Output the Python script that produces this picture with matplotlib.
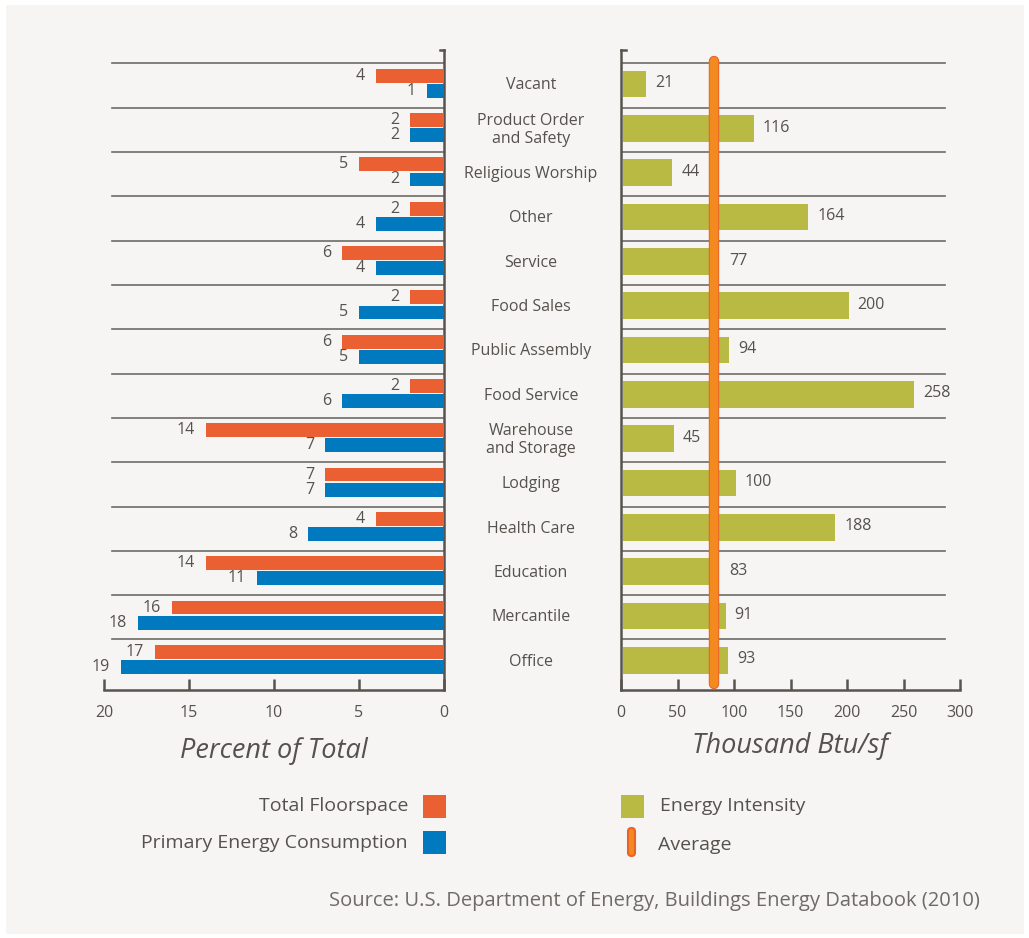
import matplotlib
matplotlib.use("Agg")
import matplotlib.pyplot as plt
import matplotlib.patheffects as pe
from matplotlib.patches import Rectangle, FancyBboxPatch
from matplotlib.transforms import blended_transform_factory
import numpy as np

plt.rcParams['font.family'] = ['Open Sans', 'DejaVu Sans']

# data, top row first
categories = ['Vacant', 'Product Order\nand Safety', 'Religious Worship', 'Other',
              'Service', 'Food Sales', 'Public Assembly', 'Food Service',
              'Warehouse\nand Storage', 'Lodging', 'Health Care', 'Education',
              'Mercantile', 'Office']
floorspace = [4, 2, 5, 2, 6, 2, 6, 2, 14, 7, 4, 14, 16, 17]
energy_use = [1, 2, 2, 4, 4, 5, 5, 6, 7, 7, 8, 11, 18, 19]
intensity = [21, 116, 44, 164, 77, 200, 94, 258, 45, 100, 188, 83, 91, 93]
average_intensity = 82
pct_ticks = [20, 15, 10, 5, 0]
btu_ticks = [0, 50, 100, 150, 200, 250, 300]

ORANGE = '#ea6033'
BLUE = '#0079be'
GREEN = '#b9ba43'
AVG = '#f28a1f'
AVG_EDGE = '#e9622a'
TXT = '#55524d'
LINE = '#6e6b66'
AX = '#57544f'
BG = '#f6f5f3'

FS = 11.5      # numbers / category names
FS_LEG = 14    # legend
FS_SRC = 14.5  # source line
FS_TITLE = 19.5

W, H = 1029, 938
fig = plt.figure(figsize=(W / 100, H / 100), dpi=100, facecolor='white')


def fx(x):
    return x / W


def fy(y):
    return 1 - y / H


fig.add_artist(Rectangle((fx(6), fy(934)), fx(1018), 929 / H, transform=fig.transFigure,
                         facecolor=BG, edgecolor='none', zorder=-10))

rows = np.arange(len(categories))
ytop, ybot = -0.30, 14.14

# ---- left panel: percent of total
axl = fig.add_axes([fx(104), fy(690), fx(340), 640 / H])
axl.set_facecolor('none')
axl.barh(rows + 0.28, floorspace, height=0.31, color=ORANGE, zorder=3)
axl.barh(rows + 0.62, energy_use, height=0.31, color=BLUE, zorder=3)
for i in rows:
    axl.text(floorspace[i] + 0.65, i + 0.28, str(floorspace[i]), ha='right', va='center',
             fontsize=FS, color=TXT)
    axl.text(energy_use[i] + 0.65, i + 0.62, str(energy_use[i]), ha='right', va='center',
             fontsize=FS, color=TXT)
for i in rows:
    axl.axhline(i, xmin=8 / 340, xmax=1, color=LINE, lw=1.2, zorder=2)
axl.set_xlim(20, 0)
axl.set_ylim(ybot, ytop)
axl.set_xticks(pct_ticks)
axl.set_yticks([])
for s in ['left', 'top']:
    axl.spines[s].set_visible(False)
for s in ['right', 'bottom']:
    axl.spines[s].set_color(AX)
    axl.spines[s].set_linewidth(1.8)
axl.tick_params(axis='x', direction='in', length=8, width=1.8, color=AX,
                labelsize=FS, labelcolor=TXT, pad=11)
axl.plot([0.988, 1.0], [1.0, 1.0], transform=axl.transAxes, color=AX, lw=1.8,
         clip_on=False)
axl.set_xlabel('Percent of Total', fontsize=FS_TITLE, style='italic', color=TXT, labelpad=11)

# ---- right panel: thousand Btu/sf
axr = fig.add_axes([fx(621), fy(690), fx(339), 640 / H])
axr.set_facecolor('none')
axr.barh(rows + 0.47, intensity, height=0.6, left=1.5, color=GREEN, zorder=3)
for i in rows:
    # labels that would sit on the average line are pushed past it
    lx = intensity[i] + 9.5
    if lx < average_intensity + 14 and intensity[i] + 30 > average_intensity:
        lx = average_intensity + 14
    axr.text(lx, i + 0.45, str(intensity[i]), ha='left', va='center',
             fontsize=FS, color=TXT)
for i in rows:
    axr.axhline(i, xmin=0, xmax=(945 - 621) / 339, color=LINE, lw=1.2, zorder=2)
axr.plot([average_intensity, average_intensity], [-0.05, 14.0], color=AVG, lw=6,
         solid_capstyle='round', zorder=4,
         path_effects=[pe.Stroke(linewidth=7.5, foreground=AVG_EDGE), pe.Normal()])
axr.set_xlim(0, 300)
axr.set_ylim(ybot, ytop)
axr.set_xticks(btu_ticks)
axr.set_yticks([])
for s in ['right', 'top']:
    axr.spines[s].set_visible(False)
for s in ['left', 'bottom']:
    axr.spines[s].set_color(AX)
    axr.spines[s].set_linewidth(1.8)
axr.tick_params(axis='x', direction='in', length=8, width=1.8, color=AX,
                labelsize=FS, labelcolor=TXT, pad=11)
axr.plot([0.0, 0.014], [1.0, 1.0], transform=axr.transAxes, color=AX, lw=1.8,
         clip_on=False)
axr.set_xlabel('Thousand Btu/sf', fontsize=FS_TITLE, style='italic', color=TXT, labelpad=8)

# ---- category names in the middle
mid = blended_transform_factory(fig.transFigure, axl.transData)
for i, name in enumerate(categories):
    axl.text(fx(531), i + 0.5, name, transform=mid, ha='center', va='center',
             fontsize=FS, color=TXT, linespacing=1.2)

# ---- legend
fig.add_artist(Rectangle((fx(423), fy(818)), fx(23), 23 / H, transform=fig.transFigure,
                         facecolor=ORANGE, edgecolor='none'))
fig.add_artist(Rectangle((fx(423), fy(854)), fx(23), 23 / H, transform=fig.transFigure,
                         facecolor=BLUE, edgecolor='none'))
fig.add_artist(Rectangle((fx(621), fy(818)), fx(23), 23 / H, transform=fig.transFigure,
                         facecolor=GREEN, edgecolor='none'))
fig.add_artist(FancyBboxPatch((fx(628), fy(856)), fx(7), 28 / H,
                              boxstyle='round,pad=0,rounding_size=0.0035',
                              transform=fig.transFigure, facecolor=AVG,
                              edgecolor=AVG_EDGE, lw=1.5))
fig.text(fx(408), fy(806), 'Total Floorspace', ha='right', va='center', fontsize=FS_LEG, color=TXT)
fig.text(fx(408), fy(843), 'Primary Energy Consumption', ha='right', va='center',
         fontsize=FS_LEG, color=TXT)
fig.text(fx(660), fy(806), 'Energy Intensity', ha='left', va='center', fontsize=FS_LEG, color=TXT)
fig.text(fx(658), fy(845), 'Average', ha='left', va='center', fontsize=FS_LEG, color=TXT)
fig.text(fx(980), fy(901), 'Source: U.S. Department of Energy, Buildings Energy Databook (2010)',
         ha='right', va='center', fontsize=FS_SRC, color='#6e6b66')

fig.savefig('out.png', dpi=100, facecolor='white')
